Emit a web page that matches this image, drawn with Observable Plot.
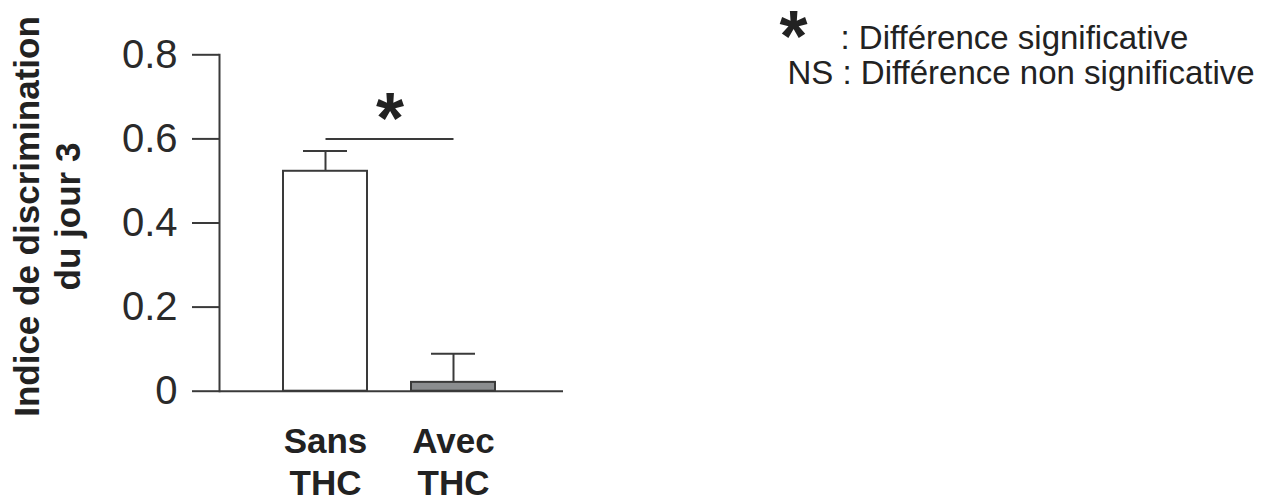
<!DOCTYPE html>
<html><head><meta charset="utf-8">
<script src="https://cdn.jsdelivr.net/npm/d3@7"></script>
<script src="https://cdn.jsdelivr.net/npm/@observablehq/plot@0.6"></script>
<style>body{margin:0;background:#fff;}</style>
</head><body><div id="chart"></div>
<script>
const categories = ["Sans THC", "Avec THC"];
const meanValues = [0.523, 0.021];
const errorTops = [0.571, 0.089];
const xTickLabels = ["Sans\nTHC", "Avec\nTHC"];
const yTicks = [0, 0.2, 0.4, 0.6, 0.8];
const yLabel = "Indice de discrimination\ndu jour 3";
const sigFrom = ["Sans THC"];
const sigTo = ["Avec THC"];
const sigLevel = [0.6];
const sigMark = ["*"];
const legendSymbols = ["*"];
const legendLines = [": Différence significative", "NS : Différence non significative"];

const data = categories.map((c, i) => ({cat: c, mean: meanValues[i], err: errorTops[i], label: xTickLabels[i]}));
const sig = sigFrom.map((f, i) => ({from: f, to: sigTo[i], y: sigLevel[i], mark: sigMark[i]}));
const ink = "#3a3a3a";
const txt = "#222";

const chart = Plot.plot({
  width: 1275, height: 500,
  marginLeft: 219, marginRight: 712, marginTop: 54.3, marginBottom: 109.3,
  style: {fontFamily: "'Liberation Sans', Arial, sans-serif", background: "#fff", color: txt},
  x: {domain: categories, paddingInner: 0.342, paddingOuter: 0.507, align: 0.486, axis: null},
  y: {domain: [0, 0.8], axis: null},
  color: {domain: categories, range: ["#ffffff", "#8b8d8f"]},
  marks: [
    Plot.axisY({ticks: yTicks, tickSize: 27, tickPadding: 15, tickFormat: d => String(d), fontSize: 40, stroke: ink, fill: "#2a2a2a", strokeWidth: 2, label: null}),
    Plot.frame({anchor: "left", stroke: ink, strokeWidth: 2}),
    Plot.ruleX(data, {x: "cat", y1: "mean", y2: "err", stroke: ink, strokeWidth: 2}),
    Plot.tickY(data, {x: "cat", y: "err", insetLeft: 20, insetRight: 20, stroke: ink, strokeWidth: 2}),
    Plot.barY(data, {x: "cat", y: "mean", fill: "cat", stroke: ink, strokeWidth: 2}),
    Plot.ruleY([0], {stroke: ink, strokeWidth: 2}),
    Plot.link(sig, {x1: "from", x2: "to", y1: "y", y2: "y", stroke: ink, strokeWidth: 2}),
    Plot.text(sig, {x: "from", y: "y", text: "mark", dx: 64.4, dy: 4, lineAnchor: "bottom", fontSize: 72, fontWeight: "bold", fill: txt}),
    Plot.text(data, {x: "cat", text: "label", frameAnchor: "bottom", lineAnchor: "top", dy: 31, fontSize: 35, fontWeight: "bold", lineHeight: 1.22, fill: txt}),
    Plot.text([yLabel], {text: d => d, frameAnchor: "left", textAnchor: "middle", rotate: -90, dx: -172.7, dy: -6.5, fontSize: 35, fontWeight: "bold", lineHeight: 1.17, fill: txt}),
    Plot.text(legendSymbols, {text: d => d, frameAnchor: "top-left", textAnchor: "middle", dx: 574, dy: 6.5, lineAnchor: "bottom", fontSize: 72, fontWeight: "bold", fill: txt}),
    Plot.text([legendLines[0]], {text: d => d, frameAnchor: "top-left", textAnchor: "start", dx: 621, dy: -6.3, lineAnchor: "bottom", fontSize: 33, fill: txt}),
    Plot.text([legendLines[1]], {text: d => d, frameAnchor: "top-left", textAnchor: "start", dx: 568, dy: 28.7, lineAnchor: "bottom", fontSize: 33, fill: txt})
  ]
});
document.getElementById("chart").append(chart);
</script>
</body></html>
